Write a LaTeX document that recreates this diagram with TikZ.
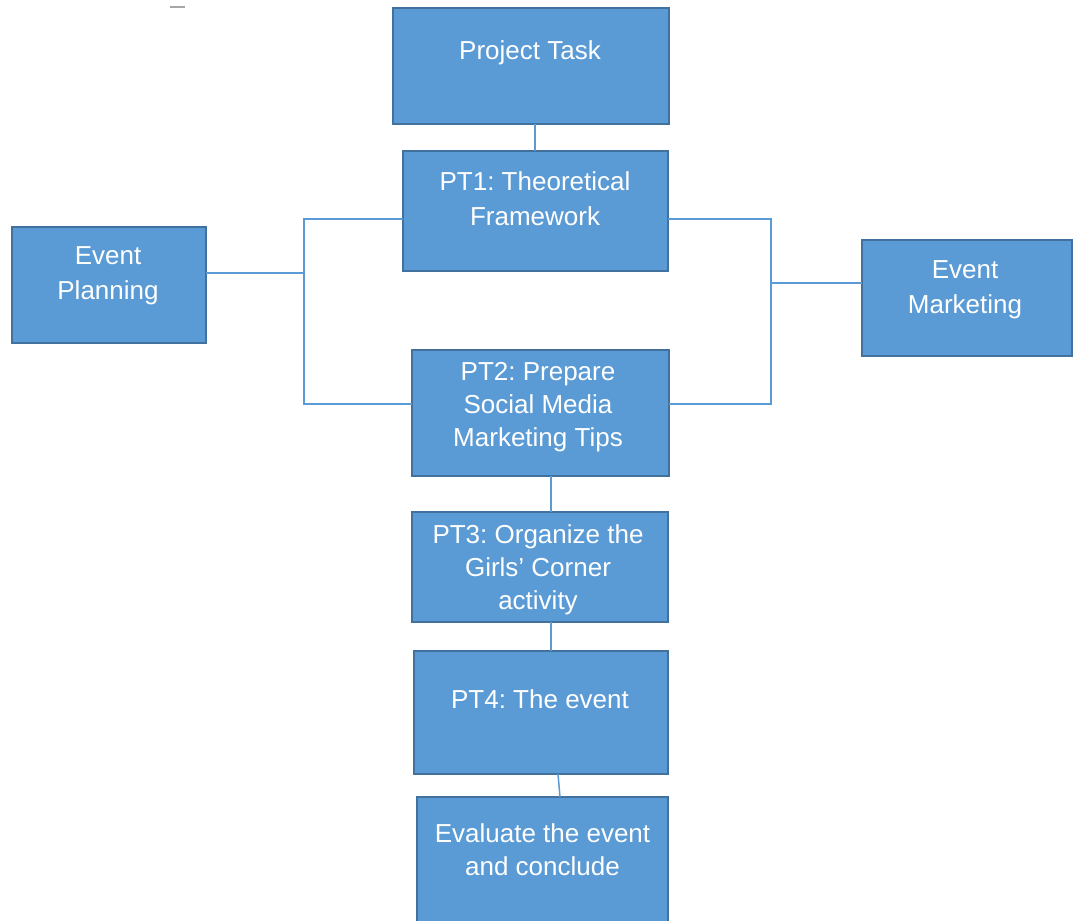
\documentclass[tikz,border=0pt]{standalone}
\usepackage{fontspec}
\setmainfont{Liberation Sans}
\frenchspacing
\definecolor{boxfill}{HTML}{5B9BD5}
\definecolor{boxline}{HTML}{41719C}
\definecolor{conn}{HTML}{5B9BD5}
\begin{document}
\begin{tikzpicture}[x=1pt,y=-1pt,
  box/.style={draw=boxline, fill=boxfill, line width=1.3pt, inner sep=0pt, outer sep=0pt, minimum width=#1},
  boxtext/.style={text=white, align=center, inner sep=0pt, anchor=north,
     font=\fontsize{26}{33}\selectfont, execute at begin node={\rule{0pt}{19pt}}},
  widetext/.style={boxtext, font=\fontsize{26}{35.5}\selectfont},
  link/.style={draw=conn, line width=1.5pt}]
\clip (0,0) rectangle (1075,920);
\fill[white] (0,0) rectangle (1075,920);
% stray mark
\draw[gray!70, line width=1.5pt] (170,7) -- (185,7);
% boxes
\node[box=276pt, minimum height=116pt] (task) at (531,66) {};
\node[box=265pt, minimum height=120pt] (pt1) at (535.5,211) {};
\node[box=194pt, minimum height=116pt] (plan) at (109,285) {};
\node[box=210pt, minimum height=116pt] (mark) at (967,298) {};
\node[box=257pt, minimum height=126pt] (pt2) at (540.5,413) {};
\node[box=256pt, minimum height=110pt] (pt3) at (540,567) {};
\node[box=254pt, minimum height=123pt] (pt4) at (541,712.5) {};
\node[box=251pt, minimum height=133pt] (eval) at (542.5,863.5) {};
% texts
\node[boxtext] (taskt) at (530,40) {Project Task};
\node[widetext] (pt1t) at (535,171) {PT1: Theoretical\\Framework};
\node[widetext] (plant) at (108,246) {Event\\Planning};
\node[widetext] (markt) at (965,260) {Event\\Marketing};
\node[boxtext] (pt2t) at (538,362) {PT2: Prepare\\Social Media\\Marketing Tips};
\node[boxtext] (pt3t) at (538,524) {PT3: Organize the\\Girls’ Corner\\activity};
\node[boxtext] (pt4t) at (540,689) {PT4: The event};
\node[boxtext] (evalt) at (542.5,823) {Evaluate the event\\and conclude};
% junction coordinates
\coordinate (jLt) at (304,219);
\coordinate (jLm) at (304,273);
\coordinate (jLb) at (304,404);
\coordinate (jRt) at (771,219);
\coordinate (jRm) at (771,283);
\coordinate (jRb) at (771,404);
\coordinate (c12) at (535,0);
\coordinate (c23) at (551,0);
\coordinate (c45a) at (558,0);
\coordinate (c45b) at (560,0);
% connectors
\draw[link] (task.south -| c12) -- (pt1.north -| c12);
\draw[link] (plan.east |- jLm) -- (jLm);
\draw[link] (pt1.west |- jLt) -- (jLt) -- (jLb) -- (pt2.west |- jLb);
\draw[link] (pt1.east |- jRt) -- (jRt) -- (jRb) -- (pt2.east |- jRb);
\draw[link] (jRm) -- (mark.west |- jRm);
\draw[link] (pt2.south -| c23) -- (pt3.north -| c23);
\draw[link] (pt3.south -| c23) -- (pt4.north -| c23);
\draw[link] (pt4.south -| c45a) -- (eval.north -| c45b);
\end{tikzpicture}
\end{document}
